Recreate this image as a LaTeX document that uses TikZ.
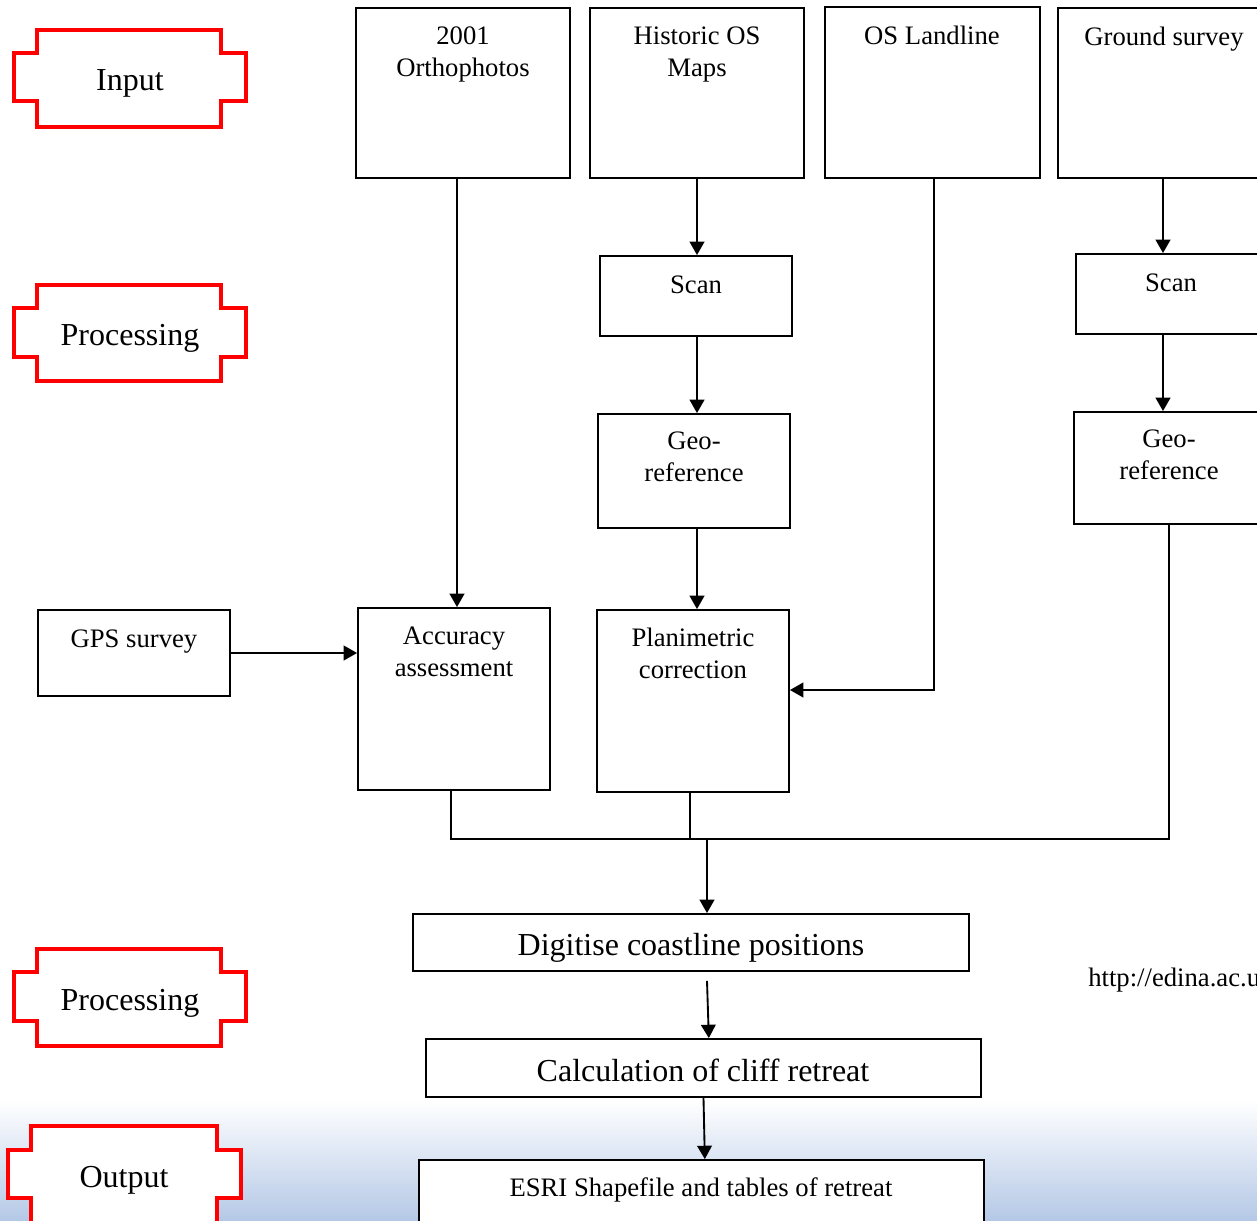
\documentclass[tikz,border=0pt]{standalone}
\usepackage{fontspec}
\setmainfont{Liberation Serif}
\usetikzlibrary{arrows.meta,fit}
\begin{document}
\begin{tikzpicture}[x=0.75pt,y=-0.75pt,
  box/.style={draw,line width=1.4pt,fill=white,inner sep=0pt},
  txt/.style={font=\fontsize{20}{24}\selectfont,align=center,inner sep=0pt},
  bigtxt/.style={font=\fontsize{24}{29}\selectfont,inner sep=0pt},
  plaque/.style={draw=red,line width=3.6pt,fill=white,line join=miter},
  ln/.style={line width=1.4pt},
  arr/.style={line width=1.4pt,-{Triangle[length=10pt,width=11pt]}}]
\useasboundingbox (0,0) rectangle (1257,1221);
\clip (0,0) rectangle (1257,1221);
% background sky
\shade[top color=white,middle color={rgb,255:red,228;green,235;blue,245},bottom color={rgb,255:red,180;green,200;blue,230}] (0,1100) rectangle (1257,1221);
% plaques
\draw[plaque] (37,30) -- (221,30) -- (221,53) -- (246,53) -- (246,101) -- (221,101) -- (221,127) -- (37,127) -- (37,101) -- (14,101) -- (14,53) -- (37,53) -- cycle;
\node[bigtxt,anchor=base] (pin) at (130,90) {Input};
\draw[plaque] (37,285) -- (221,285) -- (221,308) -- (246,308) -- (246,357) -- (221,357) -- (221,381) -- (37,381) -- (37,357) -- (14,357) -- (14,308) -- (37,308) -- cycle;
\node[bigtxt,anchor=base] (pproc1) at (130,345) {Processing};
\draw[plaque] (37,949) -- (221,949) -- (221,972) -- (246,972) -- (246,1021) -- (221,1021) -- (221,1046) -- (37,1046) -- (37,1021) -- (14,1021) -- (14,972) -- (37,972) -- cycle;
\node[bigtxt,anchor=base] (pproc2) at (130,1010) {Processing};
\draw[plaque] (31,1126) -- (217,1126) -- (217,1150) -- (241,1150) -- (241,1198) -- (217,1198) -- (217,1240) -- (31,1240) -- (31,1198) -- (8,1198) -- (8,1150) -- (31,1150) -- cycle;
\node[bigtxt,anchor=base] (pout) at (124,1187) {Output};
% input boxes
\node[box,fit={(356,8) (570,178)}] (ortho) {};
\node[txt,anchor=north] (orthoT) at (463,26) {2001\\Orthophotos};
\node[box,fit={(590,8) (804,178)}] (hist) {};
\node[txt,anchor=north] (histT) at (697,27) {Historic OS\\Maps};
\node[box,fit={(825,7) (1040,178)}] (land) {};
\node[txt,anchor=base] (landT) at (932,44) {OS Landline};
\node[box,fit={(1058,8) (1270,178)}] (gs) {};
\node[txt,anchor=base] (gsT) at (1164,45) {Ground survey};
% processing boxes
\node[box,fit={(600,256) (792,336)}] (scan1) {};
\node[txt,anchor=base] (scan1T) at (696,293) {Scan};
\node[box,fit={(1076,254) (1266,334)}] (scan2) {};
\node[txt,anchor=base] (scan2T) at (1171,291) {Scan};
\node[box,fit={(598,414) (790,528)}] (geo1) {};
\node[txt,anchor=north] (geo1T) at (694,432) {Geo-\\reference};
\node[box,fit={(1074,412) (1264,524)}] (geo2) {};
\node[txt,anchor=north] (geo2T) at (1169,430) {Geo-\\reference};
\node[box,fit={(38,610) (230,696)}] (gps) {};
\node[txt,anchor=base] (gpsT) at (134,647) {GPS survey};
\node[box,fit={(358,608) (550,790)}] (acc) {};
\node[txt,anchor=north] (accT) at (454,627) {Accuracy\\assessment};
\node[box,fit={(597,610) (789,792)}] (plan) {};
\node[txt,anchor=north] (planT) at (693,628) {Planimetric\\correction};
% lower boxes
\node[box,fit={(413,914) (969,971)}] (dig) {};
\node[bigtxt,anchor=base] (digT) at (691,955) {Digitise coastline positions};
\node[box,fit={(426,1039) (981,1097)}] (calc) {};
\node[bigtxt,anchor=base] (calcT) at (703,1081) {Calculation of cliff retreat};
\node[box,fit={(419,1160) (984,1250)}] (esri) {};
\node[txt,anchor=base] (esriT) at (701,1196) {ESRI Shapefile and tables of retreat};
\node[txt,anchor=base west] (url) at (1088,986) {http://edina.ac.uk};
% connectors
\coordinate (oa) at (457,0);
\draw[arr] (oa |- ortho.south) -- (oa |- acc.north);
\draw[arr] (hist.south) -- (hist.south |- scan1.north);
\draw[arr] (hist.south |- scan1.south) -- (hist.south |- geo1.north);
\draw[arr] (hist.south |- geo1.south) -- (hist.south |- plan.north);
\coordinate (lt) at (934,690);
\draw[arr] (lt |- land.south) -- (lt) -- (lt -| plan.east);
\coordinate (gx) at (1163,0);
\draw[arr] (gx |- gs.south) -- (gx |- scan2.north);
\draw[arr] (gx |- scan2.south) -- (gx |- geo2.north);
\draw[arr] (gps.east) -- (gps.east -| acc.west);
\coordinate (m) at (707,839);
\coordinate (ax) at (451,0);
\coordinate (px) at (690,0);
\draw[ln] (ax |- acc.south) -- (ax |- m) -- (m -| geo2.south) -- (geo2.south);
\draw[ln] (px |- plan.south) -- (px |- m);
\draw[arr] (m) -- (m |- dig.north);
\draw[arr] ([xshift=12pt,yshift=-6.75pt]dig.south) -- ([xshift=4pt]calc.north);
\draw[arr] (calc.south) -- ([xshift=2.5pt]esri.north);
\end{tikzpicture}
\end{document}
